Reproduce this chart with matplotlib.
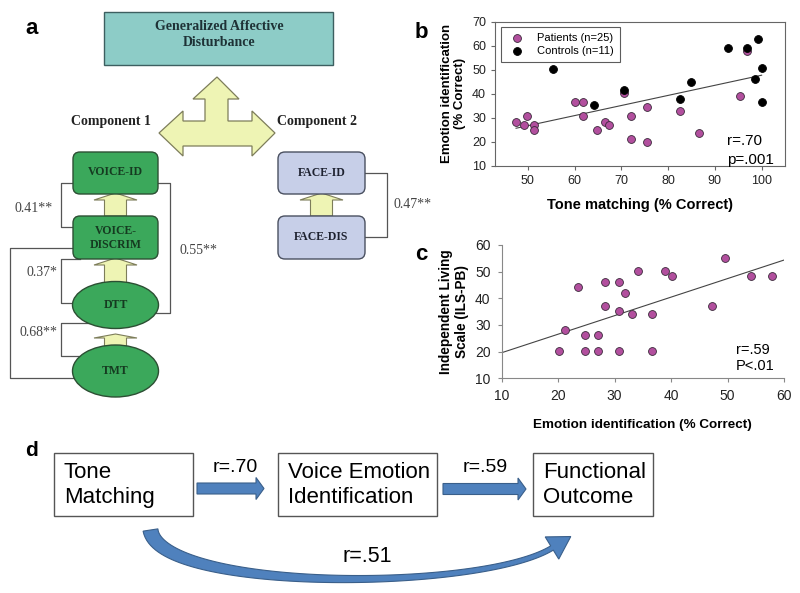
import numpy as np
import matplotlib.pyplot as plt
from matplotlib.patches import Polygon, Ellipse, FancyBboxPatch, Rectangle

plt.rcParams['font.family'] = ['Liberation Sans', 'DejaVu Sans']

# ---- panel b: tone matching vs emotion identification ----
pat_tone = [47.5, 49.1, 49.9, 51.4, 51.4, 60.2, 61.8, 61.8, 64.9, 66.6,
            67.4, 70.6, 72.1, 72.1, 75.4, 75.4, 82.6, 86.6, 95.4, 96.8]
pat_emo = [28.4, 27.2, 30.8, 27.2, 25.0, 36.8, 36.8, 30.8, 25.0, 28.4,
           27.2, 40.2, 30.8, 21.4, 34.4, 20.1, 33.0, 23.7, 39.0, 57.8]
ctl_tone = [55.5, 64.2, 70.6, 82.6, 85.0, 92.9, 96.8, 99.3, 98.5, 100.0, 100.0]
ctl_emo = [50.2, 35.4, 41.5, 37.7, 44.9, 58.9, 58.9, 62.7, 46.0, 50.8, 36.6]
fit_b = (0.42, 5.75)          # slope, intercept of drawn regression line
fit_b_range = (47.5, 100.0)

# ---- panel c: emotion identification vs ILS-PB ----
c_emo = [20.1, 21.2, 23.6, 24.8, 24.8, 27.1, 27.1, 28.3, 28.3, 30.7, 30.7, 30.7,
         31.8, 33.0, 34.2, 36.6, 36.6, 38.9, 40.1, 47.2, 49.5, 54.2, 57.8]
c_ils = [20.2, 28.1, 44.1, 26.1, 20.2, 26.1, 20.2, 46.1, 37.1, 46.1, 35.1, 20.2,
         42.1, 34.1, 50.1, 34.1, 20.2, 50.1, 48.2, 37.1, 55.2, 48.2, 48.2]
fit_c = (0.695, 12.65)
fit_c_range = (10.0, 60.0)

purple = '#b24f9e'

fig = plt.figure(figsize=(8, 5.93), dpi=100)

# overlay in pixel units for the diagrams (panels a and d)
ax0 = fig.add_axes([0, 0, 1, 1], zorder=0)
ax0.set_xlim(0, 800)
ax0.set_ylim(593, 0)
ax0.axis('off')

serif = ['Liberation Serif', 'DejaVu Serif']

def txt(x, y, s, **kw):
    ax0.text(x, y, s, ha=kw.pop('ha', 'center'), va=kw.pop('va', 'center'), **kw)

def rbox(x0, y0, x1, y1, fc, ec):
    ax0.add_patch(FancyBboxPatch((x0, y0), x1 - x0, y1 - y0,
                                 boxstyle='round,pad=0,rounding_size=7',
                                 fc=fc, ec=ec, lw=1.0, zorder=3))

def up_arrow(xc, yb, yt, sw=22, hw=43, hh=6):
    pts = [(xc, yt - 1), (xc + hw / 2, yt + hh), (xc + sw / 2, yt + hh),
           (xc + sw / 2, yb), (xc - sw / 2, yb), (xc - sw / 2, yt + hh),
           (xc - hw / 2, yt + hh)]
    ax0.add_patch(Polygon(pts, closed=True, fc='#eef4b4', ec='#7d7d5a', lw=0.8, zorder=2))

def bracket(pts, **kw):
    xs, ys = zip(*pts)
    ax0.plot(xs, ys, color='#555555', lw=0.9, zorder=1)

# panel a
txt(32, 28, 'a', fontsize=16, fontweight='bold')
ax0.add_patch(Rectangle((104, 12), 229, 53, fc='#8dccc7', ec='#3d5f60', lw=1.0, zorder=3))
txt(219, 34, 'Generalized Affective\nDisturbance', family=serif, fontweight='bold',
    fontsize=10, color='#1e3236', linespacing=1.3, zorder=4)

tri = [(217, 77), (239, 99), (228, 99), (228, 121), (252, 121), (252, 111), (275, 133),
       (252, 156), (252, 146), (183, 146), (183, 156), (159, 133), (183, 111),
       (183, 121), (205, 121), (205, 99), (193, 99)]
ax0.add_patch(Polygon(tri, closed=True, fc='#eef4b4', ec='#7d7d5a', lw=0.9, zorder=2))
txt(111, 122, 'Component 1', family=serif, fontweight='bold', fontsize=10, color='#222222')
txt(317, 122, 'Component 2', family=serif, fontweight='bold', fontsize=10, color='#222222')

green, green_ec, green_tx = '#3ba85b', '#2c4f33', '#153a20'
rbox(73, 152, 158, 194, green, green_ec)
txt(115.5, 172, 'VOICE-ID', family=serif, fontweight='bold', fontsize=8.5, color=green_tx, zorder=4)
rbox(73, 216, 158, 259, green, green_ec)
txt(115.5, 238, 'VOICE-\nDISCRIM', family=serif, fontweight='bold', fontsize=8.5,
    color=green_tx, linespacing=1.15, zorder=4)
ax0.add_patch(Ellipse((115.5, 305), 86, 47, fc=green, ec=green_ec, lw=1.0, zorder=3))
txt(115.5, 305, 'DTT', family=serif, fontweight='bold', fontsize=8.5, color=green_tx, zorder=4)
ax0.add_patch(Ellipse((115.5, 371), 86, 52, fc=green, ec=green_ec, lw=1.0, zorder=3))
txt(115.5, 371, 'TMT', family=serif, fontweight='bold', fontsize=8.5, color=green_tx, zorder=4)

up_arrow(115.5, 216, 194)
up_arrow(115.5, 284, 259)
up_arrow(115.5, 348, 335, hh=3)

face, face_ec, face_tx = '#c7cfe8', '#4a5060', '#1e2230'
rbox(278, 152, 365, 194, face, face_ec)
txt(321.5, 173, 'FACE-ID', family=serif, fontweight='bold', fontsize=8.5, color=face_tx, zorder=4)
rbox(278, 216, 365, 259, face, face_ec)
txt(321.5, 237, 'FACE-DIS', family=serif, fontweight='bold', fontsize=8.5, color=face_tx, zorder=4)
up_arrow(321.5, 216, 194)

bracket([(73, 183), (61, 183), (61, 227), (73, 227)])
bracket([(80, 259), (61, 259), (61, 303), (80, 303)])
bracket([(90, 323), (61, 323), (61, 356), (90, 356)])
bracket([(73, 248), (10, 248), (10, 378), (90, 378)])
bracket([(158, 183), (170, 183), (170, 313), (140, 313)])
bracket([(365, 173), (387, 173), (387, 237), (365, 237)])
lab = dict(family=serif, fontsize=10, color='#444444')
txt(34, 208, '0.41**', **lab)
txt(42, 273, '0.37*', **lab)
txt(38, 333, '0.68**', **lab)
txt(198, 251, '0.55**', **lab)
txt(394, 204, '0.47**', ha='left', **lab)

# panel d
txt(32, 450, 'd', fontsize=15, fontweight='bold')
blue, blue_ec = '#4f81bd', '#3a5f8a'
for (x0, x1), label in zip([(54, 193), (278, 437), (533, 653)],
                           ['Tone\nMatching', 'Voice Emotion\nIdentification', 'Functional\nOutcome']):
    ax0.add_patch(Rectangle((x0, 453), x1 - x0, 63, fc='white', ec='#555555', lw=1.0, zorder=3))
    txt(x0 + 10, 485, label, ha='left', fontsize=16, linespacing=1.2, zorder=4)

def right_arrow(x0, x1, yc, sw=11, hw=22, hl=8):
    pts = [(x0, yc - sw / 2), (x1 - hl, yc - sw / 2), (x1 - hl, yc - hw / 2), (x1, yc),
           (x1 - hl, yc + hw / 2), (x1 - hl, yc + sw / 2), (x0, yc + sw / 2)]
    ax0.add_patch(Polygon(pts, closed=True, fc=blue, ec=blue_ec, lw=0.8, zorder=3))

right_arrow(197, 264, 488.5)
right_arrow(443, 526, 489)
txt(235, 467, 'r=.70', fontsize=14)
txt(485, 467, 'r=.59', fontsize=14)

# curved arrow (tapered band + head)
P = np.array([(150.5, 530), (160, 592), (480, 592), (552, 548)], dtype=float)
t = np.linspace(0, 1, 80)[:, None]
pts = ((1 - t) ** 3) * P[0] + 3 * ((1 - t) ** 2) * t * P[1] + 3 * (1 - t) * t ** 2 * P[2] + t ** 3 * P[3]
der = 3 * ((1 - t) ** 2) * (P[1] - P[0]) + 6 * (1 - t) * t * (P[2] - P[1]) + 3 * t ** 2 * (P[3] - P[2])
der = der / np.linalg.norm(der, axis=1, keepdims=True)
nrm = np.column_stack([-der[:, 1], der[:, 0]])
w = (5 + 10 * (1 - t[:, 0]) ** 2)[:, None]
left = pts + nrm * w / 2
right = pts - nrm * w / 2
d_end, n_end = der[-1], nrm[-1]
tip = P[3] + d_end * 22
c1 = P[3] + n_end * 13
c2 = P[3] - n_end * 13
band = np.vstack([left, [c1, tip, c2], right[::-1]])
ax0.add_patch(Polygon(band, closed=True, fc=blue, ec=blue_ec, lw=0.8, zorder=3))
txt(367, 557, 'r=.51', fontsize=15.5)

# panel b axes
axb = fig.add_axes([495 / 800, 1 - 166 / 593, 290 / 800, 144.3 / 593], zorder=2)
axb.scatter(pat_tone, pat_emo, s=32, c=purple, edgecolors='#3a2a3a', linewidths=0.6,
            zorder=3, label='Patients (n=25)')
axb.scatter(ctl_tone, ctl_emo, s=32, c='black', edgecolors='black', linewidths=0.6,
            zorder=3, label='Controls (n=11)')
xs = np.array(fit_b_range)
axb.plot(xs, fit_b[0] * xs + fit_b[1], color='#444444', lw=0.8, zorder=2)
axb.set_xlim(43, 105)
axb.set_ylim(10, 70)
axb.set_xticks([50, 60, 70, 80, 90, 100])
axb.set_yticks(range(10, 71, 10))
axb.tick_params(labelsize=9, length=3, color='#666666', labelcolor='#222222')
for sp in axb.spines.values():
    sp.set_color('#666666')
    sp.set_linewidth(0.8)
axb.set_xlabel('Tone matching (% Correct)', fontsize=10.5, fontweight='bold', labelpad=8)
axb.set_ylabel('Emotion identification\n(% Correct)', fontsize=9.5, fontweight='bold', labelpad=4)
leg = axb.legend(loc='upper left', fontsize=8, frameon=True, fancybox=False,
                 borderaxespad=0.5, handletextpad=0.8, borderpad=0.5, labelspacing=0.3)
leg.get_frame().set_edgecolor('#333333')
leg.get_frame().set_linewidth(0.8)
axb.text(0.80, 0.17, 'r=.70', transform=axb.transAxes, fontsize=11, ha='left', va='center')
axb.text(0.80, 0.045, 'p=.001', transform=axb.transAxes, fontsize=11, ha='left', va='center')
fig.text(421 / 800, 1 - 33 / 593, 'b', fontsize=16, fontweight='bold', ha='center', va='center')

# panel c axes
axc = fig.add_axes([501.7 / 800, 1 - 378.3 / 593, 282.3 / 800, 133.3 / 593], zorder=2)
axc.scatter(c_emo, c_ils, s=32, c=purple, edgecolors='#3a2a3a', linewidths=0.6, zorder=3)
xs = np.array(fit_c_range)
axc.plot(xs, fit_c[0] * xs + fit_c[1], color='#444444', lw=0.8, zorder=2)
axc.set_xlim(10, 60)
axc.set_ylim(10, 60)
axc.set_xticks(range(10, 61, 10))
axc.set_yticks(range(10, 61, 10))
axc.spines['top'].set_visible(False)
axc.spines['right'].set_visible(False)
for sp in ('left', 'bottom'):
    axc.spines[sp].set_color('#888888')
    axc.spines[sp].set_linewidth(0.8)
axc.tick_params(labelsize=10, length=3, color='#888888', labelcolor='#222222', pad=5)
axc.set_xlabel('Emotion identification (% Correct)', fontsize=9.7, fontweight='bold', labelpad=11)
axc.set_ylabel('Independent Living\nScale (ILS-PB)', fontsize=9.8, fontweight='bold', labelpad=4)
axc.text(0.83, 0.21, 'r=.59', transform=axc.transAxes, fontsize=10.5, ha='left', va='center')
axc.text(0.83, 0.09, 'P<.01', transform=axc.transAxes, fontsize=10.5, ha='left', va='center')
fig.text(421 / 800, 1 - 255 / 593, 'c', fontsize=16, fontweight='bold', ha='center', va='center')

fig.savefig('out.png', dpi=100)
